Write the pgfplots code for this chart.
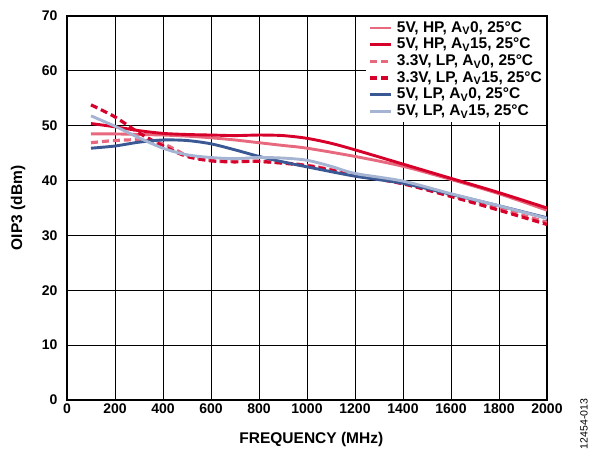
\documentclass[border=0pt]{standalone}
\usepackage{fontspec}
\setmainfont{Liberation Sans}
\usepackage{pgfplots}
\pgfplotsset{compat=1.18}
\definecolor{cpink}{RGB}{232,104,125}
\definecolor{cred}{RGB}{214,0,42}
\definecolor{cdblue}{RGB}{58,88,148}
\definecolor{clblue}{RGB}{165,180,210}
\begin{document}
\begin{tikzpicture}
\path[use as bounding box] (0,0) rectangle (595pt,453pt);
\begin{axis}[
  at={(67pt,53pt)}, anchor=south west,
  scale only axis, width=480pt, height=384pt,
  xmin=0, xmax=2000, ymin=0, ymax=70,
  xtick={0,200,...,2000}, ytick={0,10,...,70},
  grid=major, major grid style={black, line width=1pt},
  axis line style={line width=1.8pt},
  tick style={draw=none},
  /pgf/number format/assume math mode=true,
  /pgf/number format/1000 sep={},
  tick label style={font=\fontsize{14}{16}\selectfont\bfseries},
  yticklabel style={xshift=-6pt},
  xlabel={FREQUENCY (MHz)}, ylabel={OIP3 (dBm)},
  every axis x label/.style={at={(axis description cs:0.509,-0.104)}, anchor=center, font=\fontsize{15.5}{17}\selectfont\bfseries},
  every axis y label/.style={at={(axis description cs:-0.102,0.5)}, rotate=90, anchor=center, font=\fontsize{15.5}{17}\selectfont\bfseries},
  legend cell align=left,
  legend style={at={(rel axis cs:1,1)}, anchor=north east, xshift=-1pt, yshift=-1pt,
    draw=none, fill=white, inner sep=3pt, row sep=1.2pt,
    font=\fontsize{15.5}{17}\selectfont\bfseries,
    nodes={inner sep=1pt, text height=11pt, text depth=2.5pt},
    /tikz/every odd column/.append style={column sep=3pt}},
  legend image code/.code={\draw[#1] (0pt,0pt) -- (21pt,0pt);},
  every axis plot/.append style={line width=2.9pt, smooth},
]
\addplot[cpink] coordinates {(100,48.5)(200,48.5)(300,48.4)(400,48.3)(500,48.1)(600,47.8)(700,47.4)(800,46.9)(900,46.4)(1000,45.9)(1200,44.4)(1400,42.6)(1600,40.2)(1800,37.6)(2000,34.6)};
\addlegendentry{5V, HP, A\textsubscript{V}0, 25°C}
\addplot[cred] coordinates {(100,50.4)(200,49.8)(300,49.1)(400,48.6)(500,48.4)(600,48.3)(700,48.2)(800,48.3)(900,48.2)(1000,47.7)(1100,46.8)(1200,45.6)(1400,43.0)(1600,40.4)(1800,37.8)(2000,35.0)};
\addlegendentry{5V, HP, A\textsubscript{V}15, 25°C}
\addplot[cpink, line width=3.2pt, dash pattern=on 7pt off 4pt] coordinates {(100,46.9)(200,47.3)(300,47.4)(400,46.7)(500,44.6)(600,43.7)(700,43.5)(800,43.5)(1000,42.8)(1200,41.1)(1400,39.5)(1600,37.3)(1800,34.9)(2000,32.4)};
\addlegendentry{3.3V, LP, A\textsubscript{V}0, 25°C}
\addplot[cred, line width=3.2pt, dash pattern=on 7pt off 4pt] coordinates {(100,53.8)(200,51.6)(300,48.7)(400,46.3)(500,44.4)(600,43.6)(700,43.4)(800,43.5)(1000,42.7)(1200,41.0)(1400,39.4)(1600,37.1)(1800,34.6)(2000,32.0)};
\addlegendentry{3.3V, LP, A\textsubscript{V}15, 25°C}
\addplot[cdblue] coordinates {(100,45.9)(200,46.3)(300,47.0)(400,47.4)(500,47.3)(600,46.7)(700,45.6)(800,44.4)(900,43.4)(1000,42.5)(1200,40.8)(1400,39.5)(1600,37.5)(1800,35.4)(2000,33.2)};
\addlegendentry{5V, LP, A\textsubscript{V}0, 25°C}
\addplot[clblue] coordinates {(100,51.8)(200,49.9)(300,47.8)(400,45.9)(500,44.7)(600,44.2)(700,44.0)(800,44.2)(900,44.1)(1000,43.7)(1100,42.6)(1200,41.3)(1400,39.9)(1600,37.6)(1800,35.4)(2000,33.1)};
\addlegendentry{5V, LP, A\textsubscript{V}15, 25°C}
\end{axis}
\node[rotate=90, font=\fontsize{10.5}{12}\selectfont] at (584pt,29pt) {12454-013};
\end{tikzpicture}
\end{document}
